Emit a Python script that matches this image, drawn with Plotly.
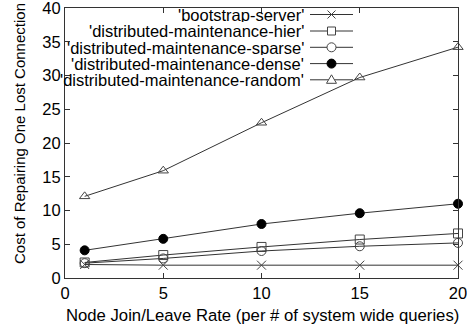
import plotly.graph_objects as go

x_rates = [1, 5, 10, 15, 20]
series_names = [
    "'bootstrap-server'",
    "'distributed-maintenance-hier'",
    "'distributed-maintenance-sparse'",
    "'distributed-maintenance-dense'",
    "'distributed-maintenance-random'",
]
bootstrap = [2.0, 1.9, 1.9, 1.9, 1.9]
hier = [2.3, 3.4, 4.6, 5.7, 6.6]
sparse = [2.2, 2.9, 4.0, 4.7, 5.2]
dense = [4.1, 5.8, 8.0, 9.6, 11.0]
random_ = [12.1, 15.9, 23.0, 29.7, 34.2]
x_ticks = [0, 5, 10, 15, 20]
y_ticks = [0, 5, 10, 15, 20, 25, 30, 35, 40]
x_title = "Node Join/Leave Rate (per # of system wide queries)"
y_title = "Cost of Repairing One Lost Connection"

symbols = ["x-thin-open", "square-open", "circle-open", "circle", "triangle-up-open"]
all_values = [bootstrap, hier, sparse, dense, random_]

FONT = "Liberation Sans, Arial, sans-serif"
LINE = "#333333"
FS = 16.5

fig = go.Figure()
for name, vals, sym in zip(series_names, all_values, symbols):
    filled = sym == "circle"
    fig.add_trace(go.Scatter(
        x=x_rates, y=vals, name=name, mode="lines+markers",
        line=dict(color=LINE, width=1),
        marker=dict(symbol=sym, size=9,
                    color="black" if filled else "#444444",
                    line=dict(color="black" if filled else "#444444", width=1)),
        showlegend=False, cliponaxis=False,
    ))

# Manual gnuplot-style legend (text right-aligned, sample on the right)
L, R, T, B = 65, 9, 8, 56
W, H = 467, 334
pw, ph = W - L - R, H - T - B
def px(xp):
    return (xp - L) / pw
def py(yp):
    return (H - B - yp) / ph

row_y = [14.5, 31.0, 47.3, 63.6, 79.8]
text_right = 305
s0, s1, sm = 310, 353, 331.5
shapes = []
annotations = []
for i, name in enumerate(series_names):
    yy = py(row_y[i])
    annotations.append(dict(x=px(text_right), y=yy, xref="paper", yref="paper",
                            text=name, showarrow=False, xanchor="right", yanchor="middle",
                            height=15, borderpad=0,
                            font=dict(family=FONT, size=FS, color="black")))
    shapes.append(dict(type="line", xref="paper", yref="paper", x0=px(s0), x1=px(s1),
                       y0=yy, y1=yy, line=dict(color=LINE, width=1)))
    base = dict(xref="paper", yref="paper", xsizemode="pixel", ysizemode="pixel",
                xanchor=px(sm), yanchor=yy, line=dict(color="#444444", width=1))
    sym = symbols[i]
    if sym == "x-thin-open":
        shapes.append(dict(base, type="path", path="M-4,-4L4,4M-4,4L4,-4"))
    elif sym == "square-open":
        shapes.append(dict(base, type="rect", x0=-4, x1=4, y0=-4, y1=4, fillcolor="white"))
    elif sym == "circle-open":
        shapes.append(dict(base, type="circle", x0=-4.5, x1=4.5, y0=-4.5, y1=4.5, fillcolor="white"))
    elif sym == "circle":
        shapes.append(dict(base, type="circle", x0=-4.5, x1=4.5, y0=-4.5, y1=4.5,
                           fillcolor="black", line=dict(color="black", width=1)))
    else:
        shapes.append(dict(base, type="path", path="M-5,-3.5L5,-3.5L0,5Z", fillcolor="white"))

# Axis titles placed like gnuplot
annotations.append(dict(x=px(262.5), y=py(315), xref="paper", yref="paper", text=x_title,
                        showarrow=False, xanchor="center", yanchor="middle",
                        font=dict(family=FONT, size=16.7, color="black")))
annotations.append(dict(x=px(19), y=py(134), xref="paper", yref="paper", text=y_title,
                        showarrow=False, xanchor="center", yanchor="middle", textangle=-90,
                        font=dict(family=FONT, size=15, color="black")))

axis_common = dict(showgrid=False, zeroline=False, showline=True, linecolor="#333333",
                   linewidth=1, mirror="allticks", ticks="inside", ticklen=5,
                   tickcolor="#333333", automargin=False, ticklabeloverflow="allow",
                   tickfont=dict(family=FONT, size=FS, color="black"))

fig.update_layout(
    width=W, height=H,
    margin=dict(l=L, r=R, t=T, b=B),
    paper_bgcolor="white", plot_bgcolor="white",
    xaxis=dict(axis_common, range=[0, 20], tickvals=x_ticks),
    yaxis=dict(axis_common, range=[0, 40], tickvals=y_ticks),
    shapes=shapes,
    annotations=annotations,
)

fig.write_html("out.html", config={"displayModeBar": False},
               post_script="document.body.style.margin='0';document.body.style.overflow='hidden';")
